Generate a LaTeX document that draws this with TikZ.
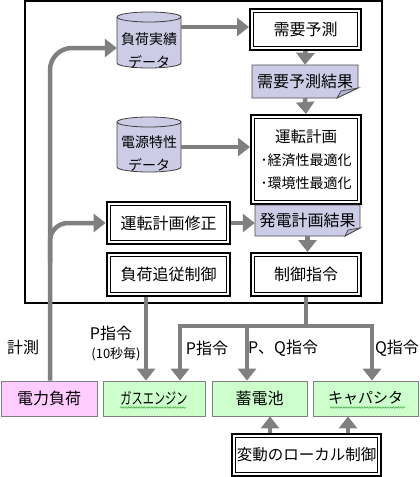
\documentclass[tikz,border=0pt]{standalone}
\usepackage{fontspec}
\usepackage{graphicx}
\setmainfont{Noto Sans CJK JP}
\usetikzlibrary{arrows.meta,decorations.pathmorphing}
\definecolor{lav}{RGB}{204,204,230}
\definecolor{lavd}{RGB}{180,180,215}
\definecolor{arrg}{RGB}{128,128,128}
\definecolor{grn}{RGB}{204,255,204}
\definecolor{pnk}{RGB}{255,204,255}
\definecolor{squig}{RGB}{60,170,60}
\begin{document}
\begin{tikzpicture}[x=1pt,y=-1pt,
  every node/.style={font=\fontsize{16}{23}\selectfont, inner sep=0pt, align=center},
  arr/.style={draw=arrg, line width=4.5pt, -{Triangle[width=18pt,length=12pt]}},
  ln/.style={draw=arrg, line width=4.5pt},
  dblbox/.style={draw=black, line width=#1, fill=white,
    path picture={\draw[line width=0.9pt]
      ([shift={(3.5pt,3.5pt)}]path picture bounding box.south west) rectangle
      ([shift={(-3.5pt,-3.5pt)}]path picture bounding box.north east);}},
  dblbox/.default=2.2pt,
  botbox/.style={draw=arrg, line width=0.8pt, minimum height=35pt},
  cylst/.style={fill=lav, draw=black!75, line width=0.8pt},
  docst/.style={fill=lav, draw=black!70, line width=0.8pt},
  cyltext/.style={font=\fontsize{14}{23}\selectfont},
  squiggle/.style={draw=squig, line width=0.5pt, decorate,
    decoration={snake, amplitude=0.8pt, segment length=2.6pt}}
]
\useasboundingbox (0,0) rectangle (420,477);
\fill[white] (0,0) rectangle (420,477);

% main frame
\draw[line width=2pt] (25,1) rectangle (382,303);

% cylinders
\path[cylst] (117,17) -- (117,63) arc[start angle=180,end angle=0,x radius=32,y radius=5] -- (181,17) -- cycle;
\path[cylst] (149,17) ellipse[x radius=32, y radius=5];
\node[minimum width=64pt, minimum height=56pt] (cyl1) at (149,40) {};
\node[cyltext] (cyl1t) at (149,51) {負荷実績\\データ};

\path[cylst] (117,122) -- (117,167) arc[start angle=180,end angle=0,x radius=32,y radius=5] -- (181,122) -- cycle;
\path[cylst] (149,122) ellipse[x radius=32, y radius=5];
\node[minimum width=64pt, minimum height=55pt] (cyl2) at (149,144.5) {};
\node[cyltext] (cyl2t) at (149,154) {電源特性\\データ};

% boxes
\node[dblbox=2pt, minimum width=111pt, minimum height=41pt] (jd) at (305.5,29.5) {需要予測};
\node[dblbox=2pt, minimum width=110pt, minimum height=89pt, font=\fontsize{14}{23}\selectfont] (unten) at (306,159.5)
  {{\fontsize{15.5}{23}\selectfont 運転計画}\\･経済性最適化\\･環境性最適化};
\node[dblbox=2.8pt, minimum width=123pt, minimum height=42pt] (shusei) at (168.5,223) {運転計画修正};
\node[dblbox=2.8pt, minimum width=123pt, minimum height=43pt] (fuka) at (168.5,274.5) {負荷追従制御};
\node[dblbox=2pt, minimum width=110pt, minimum height=43pt] (seigyo) at (306,274.5) {制御指令};

% document shapes
\path[docst] (252,65) -- (358,65) -- (358,88) -- (337,98) -- (252,98) -- cycle;
\path[docst, fill=lavd] (358,88) -- (341,91) -- (337,98) -- cycle;
\node[minimum width=106pt, minimum height=33pt] (jdr) at (305,81.5) {需要予測結果};

\path[docst] (255,205) -- (360,205) -- (360,228) -- (345,236) -- (255,236) -- cycle;
\path[docst, fill=lavd] (360,228) -- (348,230) -- (345,236) -- cycle;
\node[minimum width=105pt, minimum height=31pt] (hatsu) at (307.5,220.5) {発電計画結果};

% bottom boxes
\node[botbox, fill=pnk, minimum width=96pt] (load) at (49,398.5) {電力負荷};
\node[botbox, fill=grn, minimum width=102pt] (gas) at (154,398.5) {\scalebox{0.7}[1]{ガスエンジン}};
\node[botbox, fill=grn, minimum width=95pt] (bat) at (259.5,398.5) {蓄電池};
\node[botbox, fill=grn, minimum width=105pt, font=\fontsize{15}{20}\selectfont] (cap) at (365.5,398.5) {キャパシタ};
\node[dblbox=2.8pt, minimum width=149pt, minimum height=42pt, font=\fontsize{15.5}{20}\selectfont] (local) at (306.5,455) {変動のローカル制御};

\draw[squiggle] (120,407.5) -- (186,407.5);
\draw[squiggle] (330,407.5) -- (405,407.5);

% coordinates
\coordinate (c1in) at ([yshift=-8pt]cyl1.west);
\coordinate (c1out) at ([yshift=13pt]cyl1.east);
\coordinate (c2out) at ([yshift=-2.5pt]cyl2.east);
\coordinate (bus) at (seigyo.south |- 0,326);
\coordinate (busl) at (180,326);
\coordinate (busm) at (247,326);
\coordinate (busr) at (372,326);
\coordinate (fukaout) at ([xshift=-22.5pt]fuka.south);
\coordinate (branch) at ([xshift=1pt]load.north |- 0,262);
\coordinate (upa) at (270,440);
\coordinate (upb) at (348,440);

% arrows
\draw[arr] (c1out) -- (c1out -| jd.west);
\draw[arr] (c2out) -- (c2out -| unten.west);
\draw[arr] (jd.south) -- (jdr.north);
\draw[arr] (jdr.south) -- (unten.north);
\draw[arr] (shusei.east) -- (shusei.east -| hatsu.west);
\draw[arr] (hatsu.south) -- (hatsu.south |- seigyo.north);

\draw[arr, rounded corners=22pt] ([xshift=1pt]load.north) |- (c1in);
\draw[arr, rounded corners=18pt] (branch) |- (shusei.west);

\draw[arr] (fukaout) -- (fukaout |- gas.north);
\draw[ln] (seigyo.south) -- (bus);
\draw[ln, line cap=rect] (busl) -- (busr);
\draw[arr] (busl) -- (busl |- gas.north);
\draw[arr] (busm) -- (busm |- bat.north);
\draw[arr] (busr) -- (busr |- cap.north);

\draw[arr] (upa |- local.north) -- (upa |- bat.south);
\draw[arr] (upb |- local.north) -- (upb |- cap.south);

% labels
\node (lkei) at (23,347) {計測};
\node (lp1) at (111,333) {P指令};
\node[font=\fontsize{13}{15}\selectfont] (lp2) at (116,354) {(10秒毎)};
\node (lp3) at (207,348) {P指令};
\node (lpq) at (283,348) {P、Q指令};
\node (lq) at (397,348) {Q指令};
\end{tikzpicture}
\end{document}
